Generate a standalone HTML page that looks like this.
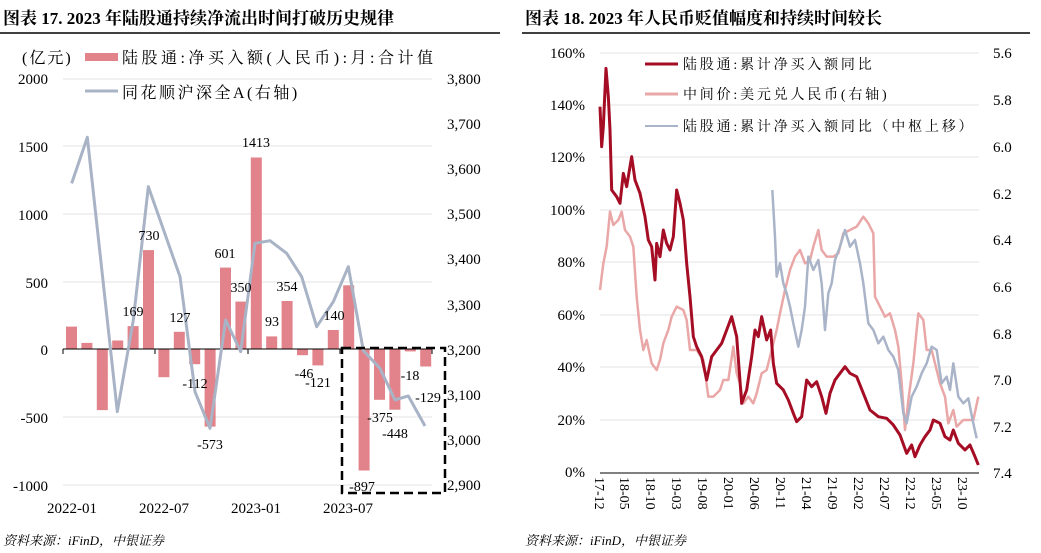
<!DOCTYPE html>
<html><head><meta charset="utf-8"><style>
body{margin:0;background:#fff;width:1041px;height:553px;overflow:hidden;font-family:"Liberation Serif","Noto Serif CJK SC",serif;}
svg{position:absolute;left:0;top:0}
</style></head><body>
<svg width="1041" height="553" viewBox="0 0 1041 553" xmlns="http://www.w3.org/2000/svg" font-family="Liberation Serif, Noto Serif CJK SC, serif">
<text x="3" y="24" font-size="17" font-weight="bold" fill="#000">图表 17. 2023 年陆股通持续净流出时间打破历史规律</text>
<text x="525" y="24" font-size="17" font-weight="bold" fill="#000">图表 18. 2023 年人民币贬值幅度和持续时间较长</text>
<line x1="0" y1="33" x2="500" y2="33" stroke="#000" stroke-width="1.5"/>
<line x1="522" y1="33" x2="1030" y2="33" stroke="#000" stroke-width="1.5"/>
<text x="3" y="545" font-size="13" font-style="italic">资料来源：iFinD，中银证券</text>
<text x="525" y="545" font-size="13" font-style="italic">资料来源：iFinD，中银证券</text>

<g stroke="#e3e3e3" stroke-width="1">
<line x1="63" y1="79" x2="432" y2="79"/><line x1="63" y1="146" x2="432" y2="146"/>
<line x1="63" y1="214" x2="432" y2="214"/><line x1="63" y1="282" x2="432" y2="282"/>
<line x1="63" y1="417" x2="432" y2="417"/><line x1="63" y1="485" x2="432" y2="485"/>
</g>
<g font-size="15" text-anchor="end" fill="#000">
<text x="48" y="84">2000</text><text x="48" y="152">1500</text><text x="48" y="220">1000</text>
<text x="48" y="288">500</text><text x="48" y="355">0</text><text x="48" y="423">-500</text><text x="48" y="491">-1000</text>
</g>
<g font-size="15" fill="#000">
<text x="447" y="84">3,800</text><text x="447" y="129">3,700</text><text x="447" y="174">3,600</text>
<text x="447" y="219">3,500</text><text x="447" y="264">3,400</text><text x="447" y="310">3,300</text>
<text x="447" y="355">3,200</text><text x="447" y="400">3,100</text><text x="447" y="445">3,000</text><text x="447" y="490">2,900</text>
</g>
<g fill="#e2828a">
<rect x="66" y="326.6" width="11" height="22.4"/>
<rect x="81.4" y="342.9" width="11" height="6.1"/>
<rect x="96.8" y="349" width="11" height="61.1"/>
<rect x="112.2" y="340.5" width="11" height="8.5"/>
<rect x="127.6" y="326.1" width="11" height="22.9"/>
<rect x="143" y="250.1" width="11" height="98.9"/>
<rect x="158.4" y="349" width="11" height="28.2"/>
<rect x="173.8" y="331.8" width="11" height="17.2"/>
<rect x="189.2" y="349" width="11" height="15.2"/>
<rect x="204.6" y="349" width="11" height="77.6"/>
<rect x="220" y="267.6" width="11" height="81.4"/>
<rect x="235.4" y="301.6" width="11" height="47.4"/>
<rect x="250.8" y="157.5" width="11" height="191.5"/>
<rect x="266.2" y="336.4" width="11" height="12.6"/>
<rect x="281.6" y="301" width="11" height="48"/>
<rect x="297" y="349" width="11" height="6.2"/>
<rect x="312.4" y="349" width="11" height="16.4"/>
<rect x="327.8" y="330" width="11" height="19"/>
<rect x="343.2" y="285.3" width="11" height="63.7"/>
<rect x="358.6" y="349" width="11" height="121.5"/>
<rect x="374" y="349" width="11" height="50.8"/>
<rect x="389.4" y="349" width="11" height="60.7"/>
<rect x="404.8" y="349" width="11" height="2.4"/>
<rect x="420.2" y="349" width="11" height="17.5"/>
</g>
<line x1="63" y1="349" x2="432" y2="349" stroke="#000" stroke-width="1"/>
<g stroke="#000"><line x1="63" y1="349" x2="63" y2="354"/><line x1="155" y1="349" x2="155" y2="354"/><line x1="248" y1="349" x2="248" y2="354"/><line x1="340" y1="349" x2="340" y2="354"/><line x1="432" y1="349" x2="432" y2="354"/></g>
<g transform="translate(0,30) scale(0.33333)">
<polyline fill="none" stroke="#a9b3c6" stroke-width="3" vector-effect="non-scaling-stroke" stroke-linejoin="round"
points="215,460 262,322 352,1145 400,870 445,470 540,740 585,1085 630,1195 677,870 722,965 765,640 810,632 860,670 905,740 950,890 1000,815 1045,710 1090,962 1140,1015 1185,1110 1225,1098 1275,1188"/>
</g>
<rect x="342" y="348" width="103" height="145" fill="none" stroke="#000" stroke-width="2.5" stroke-dasharray="9,5"/>
<g font-size="14" text-anchor="middle" fill="#000">
<text x="133" y="316">169</text><text x="149" y="240">730</text><text x="180" y="322">127</text>
<text x="195" y="388">-112</text><text x="210" y="449">-573</text><text x="225" y="258">601</text>
<text x="241" y="292">350</text><text x="256" y="147">1413</text><text x="272" y="326">93</text>
<text x="287" y="291">354</text><text x="304" y="378">-46</text><text x="318" y="387">-121</text>
<text x="334" y="320">140</text><text x="362" y="491">-897</text><text x="380" y="422">-375</text>
<text x="395" y="438">-448</text><text x="410" y="380">-18</text><text x="428" y="402">-129</text>
</g>
<g font-size="15" text-anchor="middle" fill="#000">
<text x="72" y="513">2022-01</text><text x="164" y="513">2022-07</text><text x="256" y="513">2023-01</text><text x="348" y="513">2023-07</text>
</g>
<text x="22" y="63" font-size="16" fill="#000" letter-spacing="2">(亿元)</text>
<rect x="85" y="53" width="33" height="8" fill="#e2828a"/>
<text x="122" y="63" font-size="16" fill="#000" letter-spacing="3.5">陆股通:净买入额(人民币):月:合计值</text>
<line x1="85" y1="91" x2="118" y2="91" stroke="#a9b3c6" stroke-width="3"/>
<text x="122" y="98" font-size="16" fill="#000" letter-spacing="2.5">同花顺沪深全A(右轴)</text>

<g stroke="#e3e3e3" stroke-width="1">
<line x1="600" y1="53" x2="979" y2="53"/><line x1="600" y1="105" x2="979" y2="105"/>
<line x1="600" y1="157" x2="979" y2="157"/><line x1="600" y1="210" x2="979" y2="210"/>
<line x1="600" y1="262" x2="979" y2="262"/><line x1="600" y1="315" x2="979" y2="315"/>
<line x1="600" y1="367" x2="979" y2="367"/><line x1="600" y1="420" x2="979" y2="420"/>
</g>
<g font-size="15" text-anchor="end" fill="#000">
<text x="585" y="58">160%</text><text x="585" y="110">140%</text><text x="585" y="162">120%</text>
<text x="585" y="215">100%</text><text x="585" y="267">80%</text><text x="585" y="320">60%</text>
<text x="585" y="372">40%</text><text x="585" y="425">20%</text><text x="585" y="477">0%</text>
</g>
<g font-size="15" fill="#000">
<text x="993" y="58">5.6</text><text x="993" y="105">5.8</text><text x="993" y="152">6.0</text>
<text x="993" y="199">6.2</text><text x="993" y="245">6.4</text><text x="993" y="292">6.6</text>
<text x="993" y="339">6.8</text><text x="993" y="385">7.0</text><text x="993" y="432">7.2</text><text x="993" y="478">7.4</text>
</g>
<g transform="translate(520,30) scale(0.33333)" fill="none" stroke-linejoin="round">
<polyline stroke="#eaa7a7" stroke-width="2.5" vector-effect="non-scaling-stroke" points="240,780 250,700 260,650 270,545 280,585 295,570 305,545 315,600 330,620 340,650 350,800 360,900 370,960 380,930 395,1000 410,1020 420,990 430,940 445,900 455,860 470,830 490,840 500,870 510,960 530,960 550,990 565,1100 580,1100 590,1090 600,1080 610,1050 625,1050 640,950 650,1030 660,1060 670,1120 685,1100 700,1120 710,1090 725,1030 740,1020 755,960 770,900 780,850 795,780 810,720 825,680 840,660 855,700 870,690 880,650 895,600 905,660 920,680 940,680 955,670 970,610 990,600 1010,590 1030,560 1045,580 1060,610 1065,800 1080,830 1095,860 1110,850 1125,900 1135,950 1145,1060 1155,1200 1165,1110 1180,1000 1195,850 1210,870 1220,960 1235,960 1245,1000 1260,1060 1275,1100 1285,1180 1300,1140 1310,1190 1330,1170 1360,1170 1375,1100"/>
<polyline stroke="#aab4c8" stroke-width="2.5" vector-effect="non-scaling-stroke" points="757,480 765,620 770,740 780,700 790,760 800,790 810,830 820,880 835,950 845,900 855,830 865,680 880,720 895,690 905,760 915,900 925,790 935,760 945,690 960,650 975,600 990,650 1005,630 1020,700 1030,760 1045,880 1060,900 1075,940 1090,920 1105,960 1120,980 1135,1020 1150,1150 1160,1180 1175,1100 1190,1070 1205,1030 1220,1000 1235,950 1250,960 1265,1060 1280,1040 1290,1080 1300,1000 1315,1100 1330,1120 1345,1105 1360,1180 1370,1225"/>
<polyline stroke="#a50d25" stroke-width="3" vector-effect="non-scaling-stroke" points="240,230 245,350 250,290 258,115 265,200 270,300 275,480 290,500 300,520 310,430 320,470 335,380 345,450 360,490 375,560 385,630 395,650 405,750 410,640 420,680 430,600 440,640 450,660 460,620 470,480 480,520 490,570 500,700 510,800 520,920 530,950 545,980 560,1050 575,980 590,960 605,940 620,900 635,860 650,920 665,1120 680,1080 695,980 705,900 715,920 725,860 740,930 752,900 760,1000 770,1060 790,1080 805,1110 820,1150 830,1175 845,1160 860,1050 875,1070 890,1055 905,1100 918,1150 930,1090 945,1050 960,1030 975,1010 990,1030 1010,1040 1030,1090 1050,1140 1075,1160 1100,1165 1120,1185 1140,1215 1160,1270 1175,1245 1185,1280 1200,1245 1215,1220 1230,1200 1240,1170 1260,1180 1275,1220 1290,1230 1300,1200 1315,1240 1335,1260 1350,1245 1365,1280 1375,1305"/>
</g>
<line x1="600" y1="473" x2="979" y2="473" stroke="#000" stroke-width="1"/>
<g font-size="14" fill="#000">
<text transform="translate(595,477) rotate(90)">17-12</text>
<text transform="translate(620,477) rotate(90)">18-05</text>
<text transform="translate(646,477) rotate(90)">18-10</text>
<text transform="translate(672,477) rotate(90)">19-03</text>
<text transform="translate(698,477) rotate(90)">19-08</text>
<text transform="translate(724,477) rotate(90)">20-01</text>
<text transform="translate(750,477) rotate(90)">20-06</text>
<text transform="translate(776,477) rotate(90)">20-11</text>
<text transform="translate(802,477) rotate(90)">21-04</text>
<text transform="translate(828,477) rotate(90)">21-09</text>
<text transform="translate(854,477) rotate(90)">22-02</text>
<text transform="translate(880,477) rotate(90)">22-07</text>
<text transform="translate(906,477) rotate(90)">22-12</text>
<text transform="translate(932,477) rotate(90)">23-05</text>
<text transform="translate(958,477) rotate(90)">23-10</text>
</g>
<line x1="645" y1="64" x2="678" y2="64" stroke="#a50d25" stroke-width="3"/>
<text x="683" y="69" font-size="14" letter-spacing="2.8">陆股通:累计净买入额同比</text>
<line x1="645" y1="94" x2="678" y2="94" stroke="#eaa7a7" stroke-width="3"/>
<text x="683" y="99" font-size="14" letter-spacing="2.8">中间价:美元兑人民币(右轴)</text>
<line x1="645" y1="126" x2="678" y2="126" stroke="#aab4c8" stroke-width="2"/>
<text x="683" y="131" font-size="14" letter-spacing="2.8">陆股通:累计净买入额同比（中枢上移）</text>
</svg>
</body></html>
